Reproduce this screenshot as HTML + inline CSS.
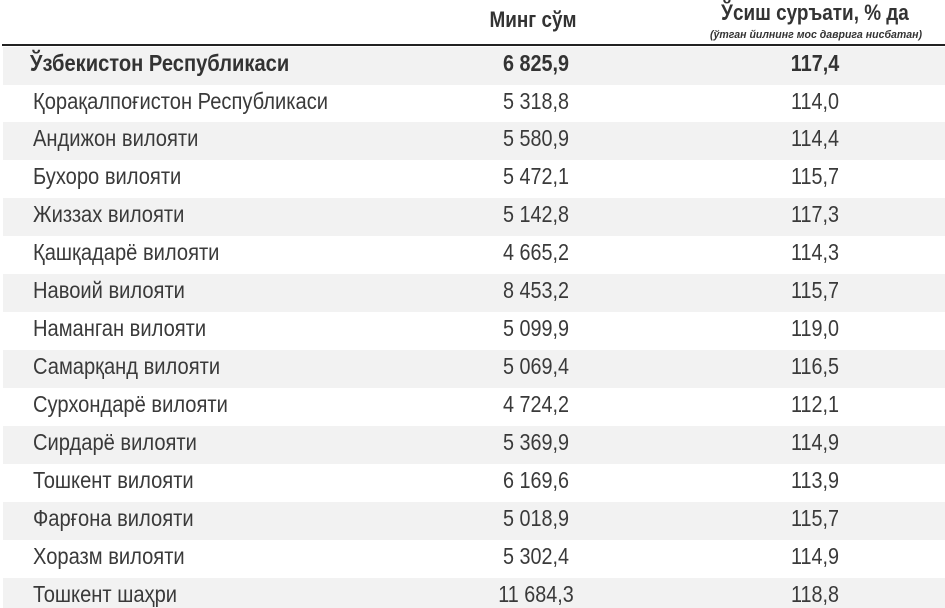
<!DOCTYPE html>
<html><head><meta charset="utf-8"><style>
html,body{margin:0;padding:0;background:#fff;width:945px;height:608px;overflow:hidden}
body{font-family:"Liberation Sans",sans-serif;color:#3a3a3a;position:relative}
.h{position:absolute;font-weight:bold;color:#333;text-align:center}
.line{position:absolute;left:2px;top:44px;width:943px;height:2px;background:#222}
.row{position:absolute;left:3px;width:942px;height:38px;font-size:23px;line-height:38px}
.g{background:#f2f2f2}
.n{position:absolute;left:30px;top:-3px;transform:scaleX(0.875);transform-origin:left center;white-space:nowrap}
.a{position:absolute;left:433px;width:200px;text-align:center;top:-3px;transform:scaleX(0.86)}
.b{position:absolute;left:712px;width:200px;text-align:center;top:-3px;transform:scaleX(0.86)}
.bold{font-weight:bold;color:#333}
</style></head><body>
<div class="h" style="left:433px;width:200px;top:7px;font-size:22px;transform:scaleX(0.86)">Минг сўм</div>
<div class="h" style="left:690px;width:250px;top:0px;font-size:22px;transform:scaleX(0.86)">Ўсиш суръати, % да</div>
<div class="h" style="left:681px;width:270px;top:29px;font-size:11px;font-style:italic;transform:scaleX(0.96)">(ўтган йилнинг мос даврига нисбатан)</div>
<div class="line"></div>
<div class="row g bold" style="top:47px"><span class="n" style="left:27px">Ўзбекистон Республикаси</span><span class="a">6 825,9</span><span class="b">117,4</span></div>
<div class="row" style="top:84.5px"><span class="n">Қорақалпоғистон Республикаси</span><span class="a">5 318,8</span><span class="b">114,0</span></div>
<div class="row g" style="top:122px"><span class="n">Андижон вилояти</span><span class="a">5 580,9</span><span class="b">114,4</span></div>
<div class="row" style="top:160px"><span class="n">Бухоро вилояти</span><span class="a">5 472,1</span><span class="b">115,7</span></div>
<div class="row g" style="top:198px"><span class="n">Жиззах вилояти</span><span class="a">5 142,8</span><span class="b">117,3</span></div>
<div class="row" style="top:236px"><span class="n">Қашқадарё вилояти</span><span class="a">4 665,2</span><span class="b">114,3</span></div>
<div class="row g" style="top:274px"><span class="n">Навоий вилояти</span><span class="a">8 453,2</span><span class="b">115,7</span></div>
<div class="row" style="top:312px"><span class="n">Наманган вилояти</span><span class="a">5 099,9</span><span class="b">119,0</span></div>
<div class="row g" style="top:350px"><span class="n">Самарқанд вилояти</span><span class="a">5 069,4</span><span class="b">116,5</span></div>
<div class="row" style="top:388px"><span class="n">Сурхондарё вилояти</span><span class="a">4 724,2</span><span class="b">112,1</span></div>
<div class="row g" style="top:426px"><span class="n">Сирдарё вилояти</span><span class="a">5 369,9</span><span class="b">114,9</span></div>
<div class="row" style="top:464px"><span class="n">Тошкент вилояти</span><span class="a">6 169,6</span><span class="b">113,9</span></div>
<div class="row g" style="top:502px"><span class="n">Фарғона вилояти</span><span class="a">5 018,9</span><span class="b">115,7</span></div>
<div class="row" style="top:540px"><span class="n">Хоразм вилояти</span><span class="a">5 302,4</span><span class="b">114,9</span></div>
<div class="row g" style="top:578px"><span class="n">Тошкент шаҳри</span><span class="a">11 684,3</span><span class="b">118,8</span></div>
</body></html>
